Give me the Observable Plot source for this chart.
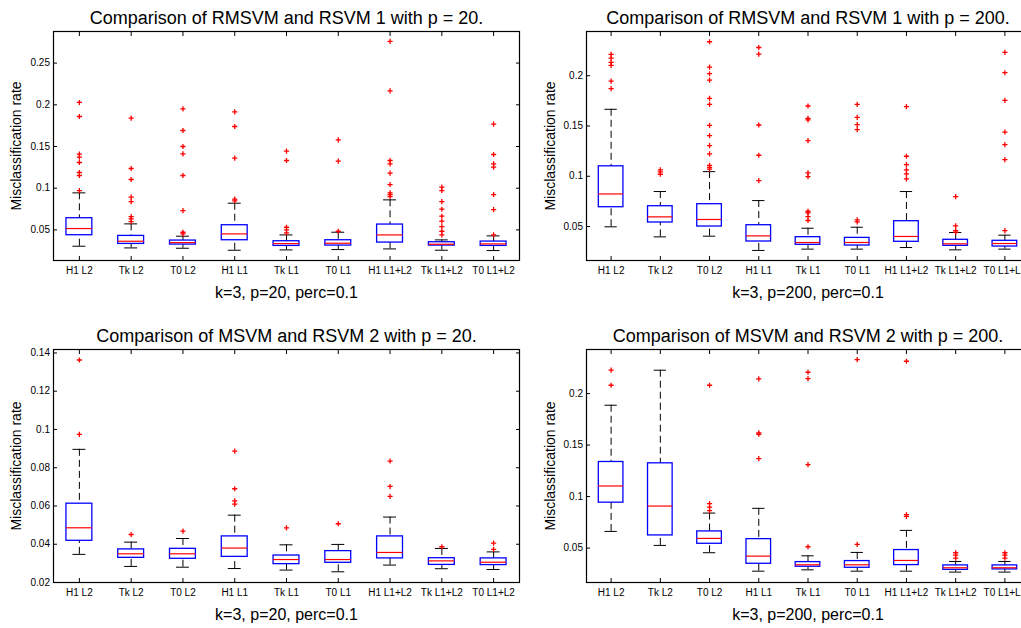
<!DOCTYPE html>
<html><head><meta charset="utf-8">
<script src="https://cdn.jsdelivr.net/npm/d3@7"></script>
<script src="https://cdn.jsdelivr.net/npm/@observablehq/plot@0.6"></script>
<style>
html,body{margin:0;padding:0;background:#fff;overflow:hidden;}
#fig{position:relative;width:1021px;height:628px;overflow:hidden;background:#fff;}
.panel{position:absolute;}
</style>
</head><body><div id="fig"></div>
<script>
// ---------- data ----------
const categories = ["H1 L2","Tk L2","T0 L2","H1 L1","Tk L1","T0 L1","H1 L1+L2","Tk L1+L2","T0 L1+L2"];
const titles = [
  "Comparison of RMSVM and RSVM 1 with p = 20.",
  "Comparison of RMSVM and RSVM 1 with p = 200.",
  "Comparison of MSVM and RSVM 2 with p = 20.",
  "Comparison of MSVM and RSVM 2 with p = 200."
];
const xLabels = ["k=3, p=20, perc=0.1","k=3, p=200, perc=0.1","k=3, p=20, perc=0.1","k=3, p=200, perc=0.1"];
const yLabel = "Misclassification rate";

const yTicks1 = [0.05,0.1,0.15,0.2,0.25];
const yTicks2 = [0.05,0.1,0.15,0.2];
const yTicks3 = [0.02,0.04,0.06,0.08,0.1,0.12,0.14];
const yTicks4 = [0.05,0.1,0.15,0.2];

const yDomain1 = [0.0133, 0.2879];
const yDomain2 = [0.0162, 0.2440];
const yDomain3 = [0.0200, 0.1418];
const yDomain4 = [0.0166, 0.2428];

// Panel 1: RMSVM vs RSVM 1, p = 20
const p1Q1     = [0.0436,0.0332,0.0324,0.0376,0.0308,0.0312,0.0348,0.0312,0.0308];
const p1Median = [0.0516,0.0364,0.0348,0.0452,0.0336,0.0340,0.0440,0.0328,0.0332];
const p1Q3     = [0.0640,0.0428,0.0372,0.0556,0.0364,0.0376,0.0564,0.0352,0.0360];
const p1Low    = [0.0304,0.0284,0.0280,0.0256,0.0260,0.0264,0.0272,0.0256,0.0252];
const p1High   = [0.0944,0.0572,0.0424,0.0820,0.0440,0.0472,0.0860,0.0380,0.0428];
const p1Outliers = [
  [0.2028,0.186,0.1408,0.1372,0.1308,0.1188,0.1152,0.0972],
  [0.184,0.1236,0.1104,0.0892,0.084,0.066,0.0632,0.06],
  [0.1952,0.1692,0.15,0.1412,0.1152,0.0732,0.0472,0.0452],
  [0.1916,0.174,0.136,0.0868,0.0848],
  [0.1444,0.1332,0.0532,0.05,0.0464],
  [0.158,0.1324,0.0484],
  [0.276,0.2168,0.1332,0.1292,0.118,0.1044,0.0944,0.0924,0.09],
  [0.1012,0.0972,0.084,0.0748,0.0664,0.0604,0.054,0.0484,0.044],
  [0.1768,0.1404,0.1292,0.1252,0.0924,0.0744,0.044]
];

// Panel 2: RMSVM vs RSVM 1, p = 200
const p2Q1     = [0.0692,0.0540,0.0500,0.0351,0.0318,0.0311,0.0348,0.0308,0.0301];
const p2Median = [0.0824,0.0596,0.0570,0.0407,0.0341,0.0341,0.0401,0.0328,0.0331];
const p2Q3     = [0.1099,0.0702,0.0722,0.0513,0.0394,0.0387,0.0553,0.0368,0.0358];
const p2Low    = [0.0497,0.0397,0.0404,0.0262,0.0275,0.0275,0.0291,0.0268,0.0275];
const p2High   = [0.1666,0.0848,0.1046,0.0758,0.0483,0.0493,0.0848,0.0440,0.0414];
const p2Outliers = [
  [0.2212,0.2175,0.2132,0.2103,0.1947,0.1871],
  [0.1063,0.1043,0.102],
  [0.2338,0.2086,0.202,0.1957,0.1775,0.1715,0.1507,0.1404,0.1305,0.1222,0.1109,0.1089,0.107],
  [0.2281,0.2215,0.151,0.1209,0.0957],
  [0.1699,0.1576,0.156,0.1354,0.1033,0.0997,0.0652,0.0636,0.0599,0.056],
  [0.1715,0.1586,0.1513,0.1464,0.0566,0.0546],
  [0.1692,0.1199,0.1116,0.1063,0.1023,0.0974],
  [0.0798,0.0507,0.046,0.0444],
  [0.2232,0.203,0.1755,0.144,0.1315,0.1166,0.046]
];

// Panel 3: MSVM vs RSVM 2, p = 20
const p3Q1     = [0.0418,0.0329,0.0324,0.0334,0.0296,0.0303,0.0326,0.0292,0.0291];
const p3Median = [0.0486,0.0350,0.0350,0.0380,0.0320,0.0320,0.0357,0.0313,0.0306];
const p3Q3     = [0.0612,0.0373,0.0376,0.0441,0.0341,0.0364,0.0441,0.0327,0.0326];
const p3Low    = [0.0347,0.0284,0.0280,0.0273,0.0265,0.0256,0.0291,0.0272,0.0268];
const p3High   = [0.0896,0.0411,0.0430,0.0552,0.0397,0.0399,0.0542,0.0378,0.0360];
const p3Outliers = [
  [0.1363,0.0974],
  [0.0451],
  [0.0469],
  [0.0887,0.069,0.0627,0.061],
  [0.0486],
  [0.0507],
  [0.0835,0.0702,0.065],
  [0.0387],
  [0.0406,0.0373]
];

// Panel 4: MSVM vs RSVM 2, p = 200
const p4Q1     = [0.0941,0.0623,0.0542,0.0348,0.0319,0.0309,0.0335,0.0289,0.0293];
const p4Median = [0.1103,0.0908,0.0594,0.0422,0.0338,0.0338,0.0380,0.0309,0.0309];
const p4Q3     = [0.1336,0.1323,0.0662,0.0587,0.0364,0.0374,0.0481,0.0332,0.0332];
const p4Low    = [0.0662,0.0526,0.0455,0.0276,0.0289,0.0276,0.0276,0.0267,0.0267];
const p4High   = [0.1887,0.2227,0.0840,0.0886,0.0425,0.0458,0.0672,0.0370,0.0370];
const p4Outliers = [
  [0.2227,0.2081],
  [],
  [0.2081,0.0931,0.0898,0.0863],
  [0.2143,0.1618,0.1605,0.1368],
  [0.2207,0.2146,0.131,0.0513],
  [0.233,0.0536],
  [0.2314,0.0824,0.0808],
  [0.0455,0.0432,0.0403],
  [0.0455,0.0432,0.0403]
];

// ---------- layout ----------
const layouts = [
  {left:0,   top:0,   width:525, height:305, mL:53, mR:6, mT:31, mB:45, ylx:-37},
  {left:540, top:0,   width:495, height:305, mL:46, mR:6, mT:31, mB:45, ylx:-36},
  {left:0,   top:305, width:525, height:323, mL:53, mR:6, mT:44, mB:46, ylx:-37},
  {left:540, top:305, width:495, height:323, mL:46, mR:6, mT:44, mB:46, ylx:-36}
];
const panels = [
  {q1:p1Q1, med:p1Median, q3:p1Q3, lo:p1Low, hi:p1High, out:p1Outliers, ticks:yTicks1, dom:yDomain1},
  {q1:p2Q1, med:p2Median, q3:p2Q3, lo:p2Low, hi:p2High, out:p2Outliers, ticks:yTicks2, dom:yDomain2},
  {q1:p3Q1, med:p3Median, q3:p3Q3, lo:p3Low, hi:p3High, out:p3Outliers, ticks:yTicks3, dom:yDomain3},
  {q1:p4Q1, med:p4Median, q3:p4Q3, lo:p4Low, hi:p4High, out:p4Outliers, ticks:yTicks4, dom:yDomain4}
];

const fmt = d => String(+d.toFixed(3));
const xIdx = categories.map((c, i) => i + 1);
const fig = document.getElementById("fig");

panels.forEach((p, k) => {
  const L = layouts[k];
  const rows = categories.map((c, i) => ({i: i + 1, q1: p.q1[i], med: p.med[i], q3: p.q3[i], lo: p.lo[i], hi: p.hi[i]}));
  const outs = p.out.flatMap((arr, i) => arr.map(v => ({i: i + 1, v})));
  const chart = Plot.plot({
    width: L.width, height: L.height,
    marginLeft: L.mL, marginRight: L.mR, marginTop: L.mT, marginBottom: L.mB,
    style: {fontFamily: "'Liberation Sans', Arial, Helvetica, sans-serif", fontSize: "10px", background: "transparent", overflow: "visible", maxWidth: "none", color: "black"},
    x: {domain: [0.5, 9.5]},
    y: {domain: p.dom},
    marks: [
      // whiskers
      Plot.ruleX(rows, {x: "i", y1: "hi", y2: "q3", stroke: "black", strokeWidth: 1, strokeDasharray: "7,4"}),
      Plot.ruleX(rows, {x: "i", y1: "lo", y2: "q1", stroke: "black", strokeWidth: 1, strokeDasharray: "7,4"}),
      Plot.ruleY(rows, {y: "hi", x1: d => d.i - 0.125, x2: d => d.i + 0.125, stroke: "black", strokeWidth: 1}),
      Plot.ruleY(rows, {y: "lo", x1: d => d.i - 0.125, x2: d => d.i + 0.125, stroke: "black", strokeWidth: 1}),
      // boxes
      Plot.rect(rows, {x1: d => d.i - 0.25, x2: d => d.i + 0.25, y1: "q1", y2: "q3", fill: "none", stroke: "#0000ff", strokeWidth: 1.3}),
      Plot.ruleY(rows, {y: "med", x1: d => d.i - 0.25, x2: d => d.i + 0.25, stroke: "#ff0000", strokeWidth: 1.2}),
      // outliers
      Plot.dot(outs, {x: "i", y: "v", symbol: "plus", r: 1.8, stroke: "#ff0000", fill: "none", strokeWidth: 1.3}),
      Plot.frame({stroke: "black", strokeWidth: 1.2}),
      // inward ticks
      Plot.axisY({ticks: p.ticks, anchor: "left", tickSize: 4, dx: 4, fill: "none", label: null}),
      Plot.axisY({ticks: p.ticks, anchor: "right", tickSize: 4, dx: -4, fill: "none", label: null}),
      Plot.axisX({ticks: xIdx, anchor: "bottom", tickSize: 4, dy: -4, fill: "none", label: null}),
      Plot.axisX({ticks: xIdx, anchor: "top", tickSize: 4, dy: 4, fill: "none", label: null}),
      // tick labels
      Plot.axisY({ticks: p.ticks, anchor: "left", tickSize: 0, tickPadding: 3.5, tickFormat: fmt, label: null, fontSize: 10}),
      Plot.axisX({ticks: xIdx, anchor: "bottom", tickSize: 0, tickPadding: 6, tickFormat: i => categories[i - 1], label: null, fontSize: 10}),
      // texts
      Plot.text([titles[k]], {text: d => d, frameAnchor: "top", dy: -8, lineAnchor: "bottom", fontSize: 18, fill: "black"}),
      Plot.text([xLabels[k]], {text: d => d, frameAnchor: "bottom", dy: 37, lineAnchor: "bottom", fontSize: 16, fill: "black"}),
      Plot.text([yLabel], {text: d => d, frameAnchor: "left", dx: L.ylx, rotate: -90, textAnchor: "middle", lineAnchor: "middle", fontSize: 14, fill: "black"})
    ]
  });
  const wrap = document.createElement("div");
  wrap.className = "panel";
  wrap.style.left = L.left + "px";
  wrap.style.top = L.top + "px";
  wrap.style.width = L.width + "px";
  wrap.style.height = L.height + "px";
  wrap.appendChild(chart);
  fig.appendChild(wrap);
});
</script>
</body></html>
